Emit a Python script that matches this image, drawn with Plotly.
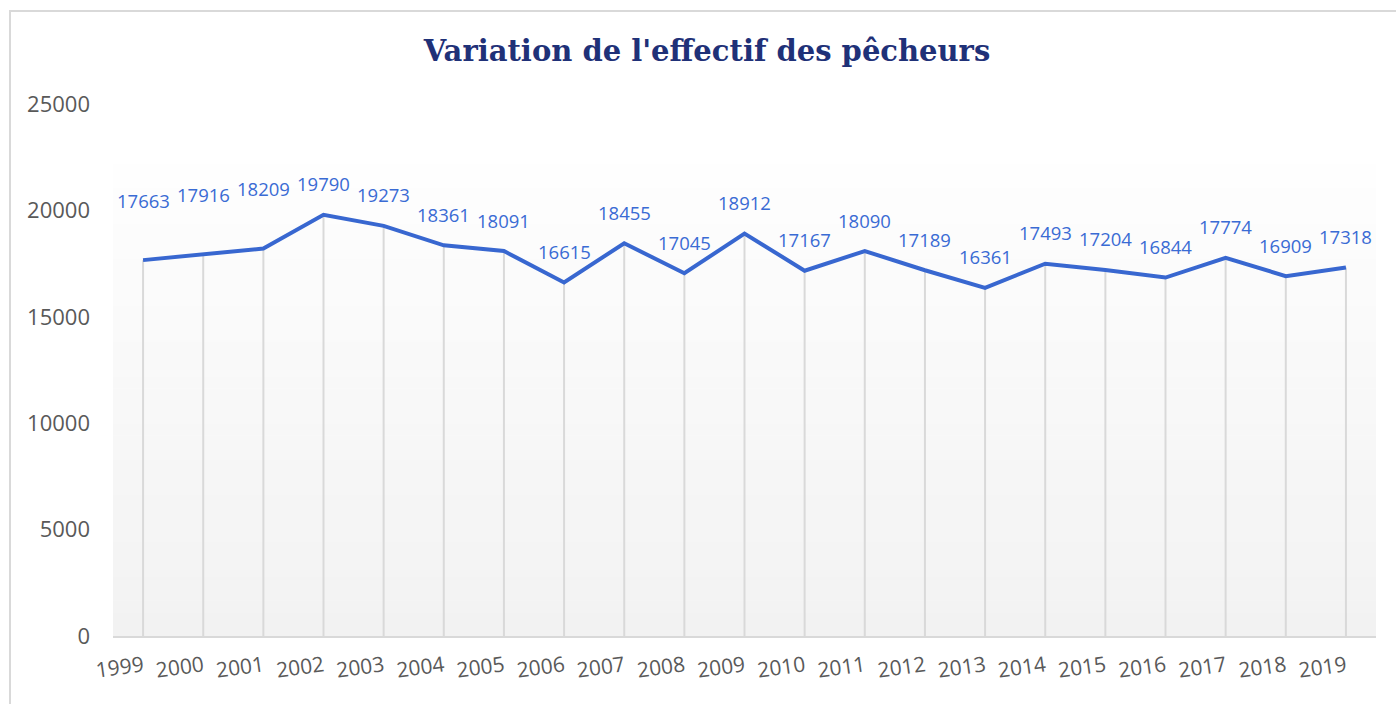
import plotly.graph_objects as go

years = [str(y) for y in range(1999, 2020)]
values = [17663, 17916, 18209, 19790, 19273, 18361, 18091, 16615, 18455, 17045,
          18912, 17167, 18090, 17189, 16361, 17493, 17204, 16844, 17774, 16909, 17318]
label_shift = [60, 60, 60] + [31] * 18
y_ticks = [0, 5000, 10000, 15000, 20000, 25000]

title_text = "Variation de l'effectif des pêcheurs"

W, H = 1396, 704
L, R, T, B = 113, 20, 104, 68
pw, ph = W - L - R, H - T - B

fig = go.Figure()

# drop lines from 0 to each value
fig.add_trace(go.Scatter(
    x=years, y=values, mode="markers",
    marker=dict(size=1, opacity=0),
    error_y=dict(type="data", symmetric=False, array=[0] * len(values),
                 arrayminus=values, color="#d9d9d9", thickness=2, width=0),
    hoverinfo="skip", showlegend=False,
))

fig.add_trace(go.Scatter(
    x=years, y=values, mode="lines",
    line=dict(color="#3867d0", width=4),
    showlegend=False,
))

for i, (v, s) in enumerate(zip(values, label_shift)):
    fig.add_annotation(x=i, y=v, text=str(v), showarrow=False, yshift=s,
                       font=dict(family="Open Sans", size=18.5, color="#3a6bd4"))

shapes = []
# gradient background (white top -> light gray bottom)
top_paper = (636 - 165) / ph
n = 40
for i in range(n):
    y0 = top_paper * i / n
    y1 = top_paper * (i + 1) / n
    t = (i + 0.5) / n  # 0 bottom, 1 top
    c = int(round(242 + (254 - 242) * t))
    shapes.append(dict(type="rect", xref="paper", yref="paper", x0=0, x1=1, y0=y0, y1=y1 + 0.001,
                       fillcolor=f"rgb({c},{c},{c})", line=dict(width=0), layer="below"))
# outer frame
shapes.append(dict(type="rect", xref="paper", yref="paper",
                   x0=(10 - L) / pw, x1=(1420 - L) / pw,
                   y0=(H - B - 720) / ph, y1=(H - B - 11) / ph,
                   line=dict(color="#d9d9d9", width=2), fillcolor="rgba(0,0,0,0)", layer="below"))

fig.update_layout(
    width=W, height=H, autosize=False,
    margin=dict(l=L, r=R, t=T, b=B),
    paper_bgcolor="white", plot_bgcolor="rgba(0,0,0,0)",
    shapes=shapes,
    title=dict(text="<b>" + title_text + "</b>", x=(707) / W, xanchor="center",
               y=1 - 51 / H, yanchor="middle",
               font=dict(family="DejaVu Serif", size=29, color="#1f3178")),
    xaxis=dict(type="category", range=[-0.5, len(years) - 0.5], showgrid=False,
               showline=True, linecolor="#d9d9d9", linewidth=2, tickangle=-8,
               tickfont=dict(family="Open Sans", size=21, color="#595959"),
               ticks="", ticklabelstandoff=8, zeroline=False),
    yaxis=dict(range=[0, 25000], tickvals=y_ticks, ticktext=[str(v) for v in y_ticks],
               showgrid=False, zeroline=False, showline=False, ticks="",
               ticklabelstandoff=22,
               tickfont=dict(family="Open Sans", size=22, color="#595959")),
)

fig.write_html("out.html", config={"displayModeBar": False},
               post_script="document.body.style.margin='0';document.body.style.overflow='hidden';")
